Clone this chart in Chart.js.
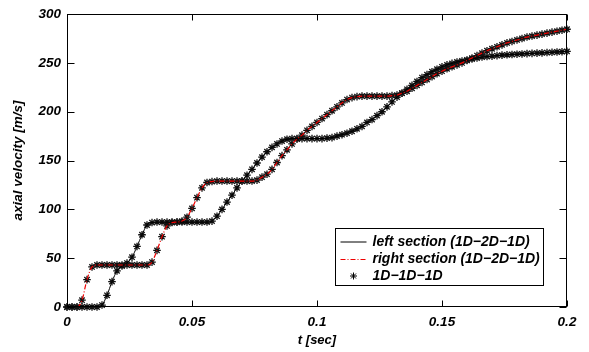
<!DOCTYPE html>
<html>
<head>
<meta charset="utf-8">
<script src="https://cdn.jsdelivr.net/npm/chart.js@4.4.1/dist/chart.umd.min.js"></script>
<style>
  html, body { margin: 0; padding: 0; background: #fff; }
  #wrap { width: 589px; height: 352px; }
</style>
</head>
<body>
<div id="wrap"><canvas id="velChart" width="589" height="352"></canvas></div>
<script>
// sample times [s]
const timeSec = [
  0, 0.002, 0.004, 0.006, 0.008, 0.010, 0.012, 0.014, 0.016, 0.018,
  0.020, 0.022, 0.024, 0.026, 0.028, 0.030, 0.032, 0.034, 0.036, 0.038,
  0.040, 0.042, 0.044, 0.046, 0.048, 0.050, 0.052, 0.054, 0.056, 0.058,
  0.060, 0.062, 0.064, 0.066, 0.068, 0.070, 0.072, 0.074, 0.076, 0.078,
  0.080, 0.082, 0.084, 0.086, 0.088, 0.090, 0.092, 0.094, 0.096, 0.098,
  0.100, 0.102, 0.104, 0.106, 0.108, 0.110, 0.112, 0.114, 0.116, 0.118,
  0.120, 0.122, 0.124, 0.126, 0.128, 0.130, 0.132, 0.134, 0.136, 0.138,
  0.140, 0.142, 0.144, 0.146, 0.148, 0.150, 0.152, 0.154, 0.156, 0.158,
  0.160, 0.162, 0.164, 0.166, 0.168, 0.170, 0.172, 0.174, 0.176, 0.178,
  0.180, 0.182, 0.184, 0.186, 0.188, 0.190, 0.192, 0.194, 0.196, 0.198,
  0.200
];

// axial velocity [m/s], left section (1D-2D-1D)
const leftSection = [
  0, 0, 0, 0, 0, 0, 0, 2, 12, 26,
  37, 42, 45, 51, 62, 74, 84, 86.5, 87, 87,
  87, 87, 87, 87, 87, 87, 87, 87, 87, 88,
  93, 100, 107.5, 114.5, 122, 129, 135, 141, 147.5, 153.5,
  159, 163.5, 167, 170, 171.8, 172.5, 172.5, 172.5, 172.5, 172.5,
  172.5, 172.5, 173, 173.5, 175, 176.5, 178, 180, 182.5, 185,
  189, 192, 196, 200, 205, 210, 215, 219, 223, 227,
  231, 235, 238, 241, 243.5, 246, 248, 249.5, 251, 252,
  253, 254, 255, 256, 256.5, 257, 257.5, 258, 258.3, 258.6,
  258.9, 259.2, 259.5, 259.8, 260, 260.3, 260.6, 260.9, 261.2, 261.5,
  261.8
];

// axial velocity [m/s], right section (1D-2D-1D)
const rightSection = [
  0, 0, 0, 7, 28, 41, 43, 43, 43, 43,
  43, 43, 43, 43, 43, 43, 43, 46, 58, 72,
  83, 86.5, 87, 88, 92, 101, 112, 122, 127.5, 128.5,
  129, 129, 129, 129, 129, 129, 129, 129, 130, 133,
  136, 141, 148, 155, 161, 167, 172, 176, 181, 185,
  189, 193, 197, 201, 205, 209, 212.5, 214.5, 215.5, 216,
  216, 216, 216, 216, 216, 216.5, 217, 219, 221, 224,
  227, 230, 233, 236, 239, 241.5, 244, 246, 248, 250,
  252.5, 255, 257.5, 260, 262.5, 264.5, 266.5, 268.5, 270.5, 272,
  273.5, 275, 276.5, 277.5, 278.5, 279.5, 280.5, 281.5, 282.5, 283.5,
  284.5
];

// 1D-1D-1D run lies on top of both sections
const oneDLeft = leftSection;
const oneDRight = rightSection;

const xTickLabels = ['0', '0.05', '0.1', '0.15', '0.2'];
const yTickLabels = ['0', '50', '100', '150', '200', '250', '300'];

const toPts = arr => timeSec.map((t, i) => ({ x: t, y: arr[i] }));
const boldItalic = size => ({ family: 'Liberation Sans', size: size, weight: 'bold', style: 'italic' });

function drawStar(ctx, cx, cy, r) {
  const d = r * Math.SQRT1_2;
  ctx.beginPath();
  ctx.moveTo(cx - r, cy); ctx.lineTo(cx + r, cy);
  ctx.moveTo(cx, cy - r); ctx.lineTo(cx, cy + r);
  ctx.moveTo(cx - d, cy - d); ctx.lineTo(cx + d, cy + d);
  ctx.moveTo(cx - d, cy + d); ctx.lineTo(cx + d, cy - d);
  ctx.stroke();
}

// box round the axes with inward ticks on all four sides
const matlabFrame = {
  id: 'matlabFrame',
  afterDatasetsDraw(chart) {
    const { ctx, chartArea: a, scales: { x, y } } = chart;
    const L = Math.round(a.left) + 0.5, R = Math.round(a.right) - 0.5;
    const T = Math.round(a.top) + 0.5, B = Math.round(a.bottom) - 0.5;
    ctx.save();
    ctx.strokeStyle = '#000';
    ctx.lineWidth = 1;
    ctx.strokeRect(L, T, R - L, B - T);
    ctx.beginPath();
    x.ticks.forEach(t => {
      const px = Math.round(x.getPixelForValue(t.value)) + 0.5;
      ctx.moveTo(px, B); ctx.lineTo(px, B - 6);
      ctx.moveTo(px, T); ctx.lineTo(px, T + 6);
    });
    y.ticks.forEach(t => {
      const py = Math.round(y.getPixelForValue(t.value)) + 0.5;
      ctx.moveTo(L, py); ctx.lineTo(L + 7, py);
      ctx.moveTo(R, py); ctx.lineTo(R - 7, py);
    });
    ctx.stroke();
    ctx.restore();
  }
};

// legend box in the lower right corner of the axes
const boxLegend = {
  id: 'boxLegend',
  afterDraw(chart) {
    const { ctx, chartArea: a } = chart;
    const ds = chart.data.datasets;
    const w = 208, h = 57;
    const x0 = Math.round(a.right - 24 - w) + 0.5, y0 = Math.round(a.bottom - 22 - h) + 0.5;
    ctx.save();
    ctx.fillStyle = '#fff';
    ctx.fillRect(x0, y0, w, h);
    ctx.strokeStyle = '#000';
    ctx.lineWidth = 1;
    ctx.strokeRect(x0, y0, w, h);
    const rows = [y0 + 13.5, y0 + 31, y0 + 47.5];
    // solid line
    ctx.beginPath();
    ctx.moveTo(x0 + 5, rows[0]); ctx.lineTo(x0 + 31, rows[0]);
    ctx.stroke();
    // dash-dot red
    ctx.strokeStyle = ds[1].borderColor;
    ctx.setLineDash(ds[1].borderDash);
    ctx.beginPath();
    ctx.moveTo(x0 + 5, rows[1]); ctx.lineTo(x0 + 31, rows[1]);
    ctx.stroke();
    ctx.setLineDash([]);
    // star
    ctx.strokeStyle = '#000';
    drawStar(ctx, x0 + 18, rows[2], 3.5);
    ctx.fillStyle = '#000';
    ctx.font = 'italic bold 14px "Liberation Sans"';
    ctx.textBaseline = 'middle';
    ctx.textAlign = 'left';
    ctx.fillText(ds[0].label, x0 + 37, rows[0]);
    ctx.fillText(ds[1].label, x0 + 37, rows[1]);
    ctx.fillText(ds[2].label, x0 + 37, rows[2]);
    ctx.restore();
  }
};

new Chart(document.getElementById('velChart').getContext('2d'), {
  type: 'line',
  data: {
    datasets: [{
      label: 'left section (1D\u22122D\u22121D)',
      data: toPts(leftSection),
      borderColor: '#000',
      borderWidth: 1,
      pointRadius: 0,
      cubicInterpolationMode: 'monotone',
      order: 2
    }, {
      label: 'right section (1D\u22122D\u22121D)',
      data: toPts(rightSection),
      borderColor: '#ee0000',
      borderWidth: 1.2,
      borderDash: [5, 2, 1, 2],
      pointRadius: 0,
      cubicInterpolationMode: 'monotone',
      order: 1
    }, {
      label: '1D\u22121D\u22121D',
      data: toPts(oneDLeft),
      showLine: false,
      pointStyle: 'star',
      pointRadius: 3.8,
      pointBorderWidth: 1.3,
      borderColor: '#111',
      backgroundColor: '#111',
      clip: false,
      order: 10
    }, {
      label: '1D\u22121D\u22121D (right)',
      data: toPts(oneDRight),
      showLine: false,
      pointStyle: 'star',
      pointRadius: 3.8,
      pointBorderWidth: 1.3,
      borderColor: '#111',
      backgroundColor: '#111',
      clip: false,
      order: 11
    }]
  },
  options: {
    responsive: false,
    animation: false,
    devicePixelRatio: 1,
    layout: { padding: { left: 0, top: 10, right: 22, bottom: 0 } },
    plugins: { legend: { display: false }, tooltip: { enabled: false } },
    scales: {
      x: {
        type: 'linear',
        min: 0,
        max: 0.2,
        afterFit(s) { s.height = 45; },
        afterBuildTicks(s) { s.ticks = xTickLabels.map(v => ({ value: parseFloat(v) })); },
        ticks: {
          color: '#000',
          font: boldItalic(13.5),
          padding: 7,
          maxRotation: 0,
          callback: (v, i) => xTickLabels[i]
        },
        grid: { display: false, drawTicks: false },
        border: { display: false },
        title: {
          display: true,
          text: 't [sec]',
          color: '#000',
          font: boldItalic(13),
          padding: { top: 0, bottom: 4 }
        }
      },
      y: {
        type: 'linear',
        min: 0,
        max: 300,
        afterFit(s) { s.width = 67; },
        afterBuildTicks(s) { s.ticks = yTickLabels.map(v => ({ value: parseFloat(v) })); },
        ticks: {
          color: '#000',
          font: boldItalic(13.5),
          padding: 6,
          callback: (v, i) => yTickLabels[i]
        },
        grid: { display: false, drawTicks: false },
        border: { display: false },
        title: {
          display: true,
          text: 'axial velocity [m/s]',
          color: '#000',
          font: boldItalic(13.5),
          padding: { top: 10, bottom: 0 }
        }
      }
    }
  },
  plugins: [matlabFrame, boxLegend]
});
</script>
</body>
</html>
